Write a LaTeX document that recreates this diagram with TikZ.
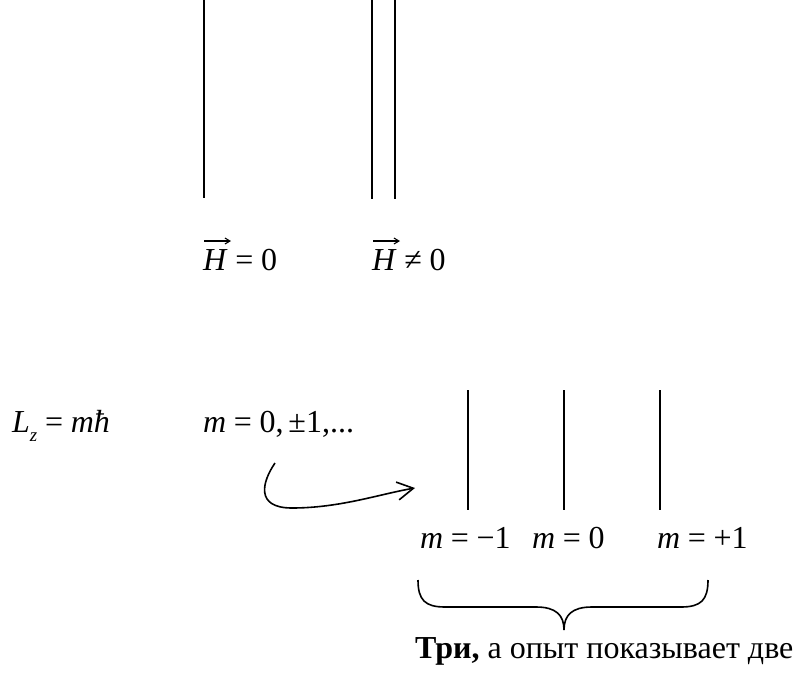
\documentclass[tikz,border=0pt]{standalone}
\usepackage{fontspec}
\setmainfont{Liberation Serif}
\usetikzlibrary{arrows.meta}
\newcommand{\eqs}{\hspace{0.24em}=\hspace{0.24em}}
\begin{document}
\begin{tikzpicture}[x=1pt,y=-1pt,
  txt/.style={anchor=base west,inner sep=0pt,font=\fontsize{32}{37}\selectfont},
  ln/.style={line width=1.6pt},
  vec/.style={line width=1.2pt,-{Straight Barb[length=5pt,width=6pt,line width=1.1pt]}},
  crv/.style={line width=1.6pt}]
\useasboundingbox (0,0) rectangle (795,680);
% top lines
\coordinate (a1) at (204,0); \coordinate (a2) at (204,198);
\coordinate (b1) at (372,0); \coordinate (b2) at (372,199);
\coordinate (c1) at (395,0); \coordinate (c2) at (395,199);
\draw[ln] (a1) -- (a2);
\draw[ln] (b1) -- (b2);
\draw[ln] (c1) -- (c2);
\node[txt] (h0) at (203,270) {\textit{H}\eqs 0};
\node[txt] (h1) at (372,270) {\textit{H}\hspace{0.24em}≠\hspace{0.24em}0};
\draw[vec] ([shift={(1,-29)}]h0.base west) -- ++(27,0);
\draw[vec] ([shift={(1,-29)}]h1.base west) -- ++(27,0);
% lower
\node[txt] (lz) at (12,432) {\textit{L}\raisebox{-0.3em}{\fontsize{19}{22}\selectfont\itshape z}\eqs\textit{mħ}};
\node[txt] (mv) at (203,432) {\textit{m}\eqs 0,\hspace{0.15em}±1,...};
\coordinate (s) at (275,463);
\coordinate (t) at (415,488);
\draw[crv,-{Straight Barb[length=16pt,width=18pt,line width=1.6pt]}] (s) .. controls (262,482) and (255,508) .. (292,508) .. controls (340,508) and (380,494) .. (t);
% three lines
\draw[ln] (468,390) -- (468,510);
\draw[ln] (564,390) -- (564,510);
\draw[ln] (660,390) -- (660,510);
\node[txt] (m1) at (420,548) {\textit{m}\eqs −1};
\node[txt] (m2) at (532,548) {\textit{m}\eqs 0};
\node[txt] (m3) at (657,548) {\textit{m}\eqs +1};
% brace
\draw[ln] (418,580) .. controls (418,600) and (425,607) .. (445,607) -- (536,607) .. controls (556,607) and (564,615) .. (564,630)
  .. controls (564,615) and (572,607) .. (592,607) -- (681,607) .. controls (701,607) and (708,600) .. (708,580);
\node[txt] (tr) at (415,658) {\textbf{Три,} а опыт показывает две};
\end{tikzpicture}
\end{document}
